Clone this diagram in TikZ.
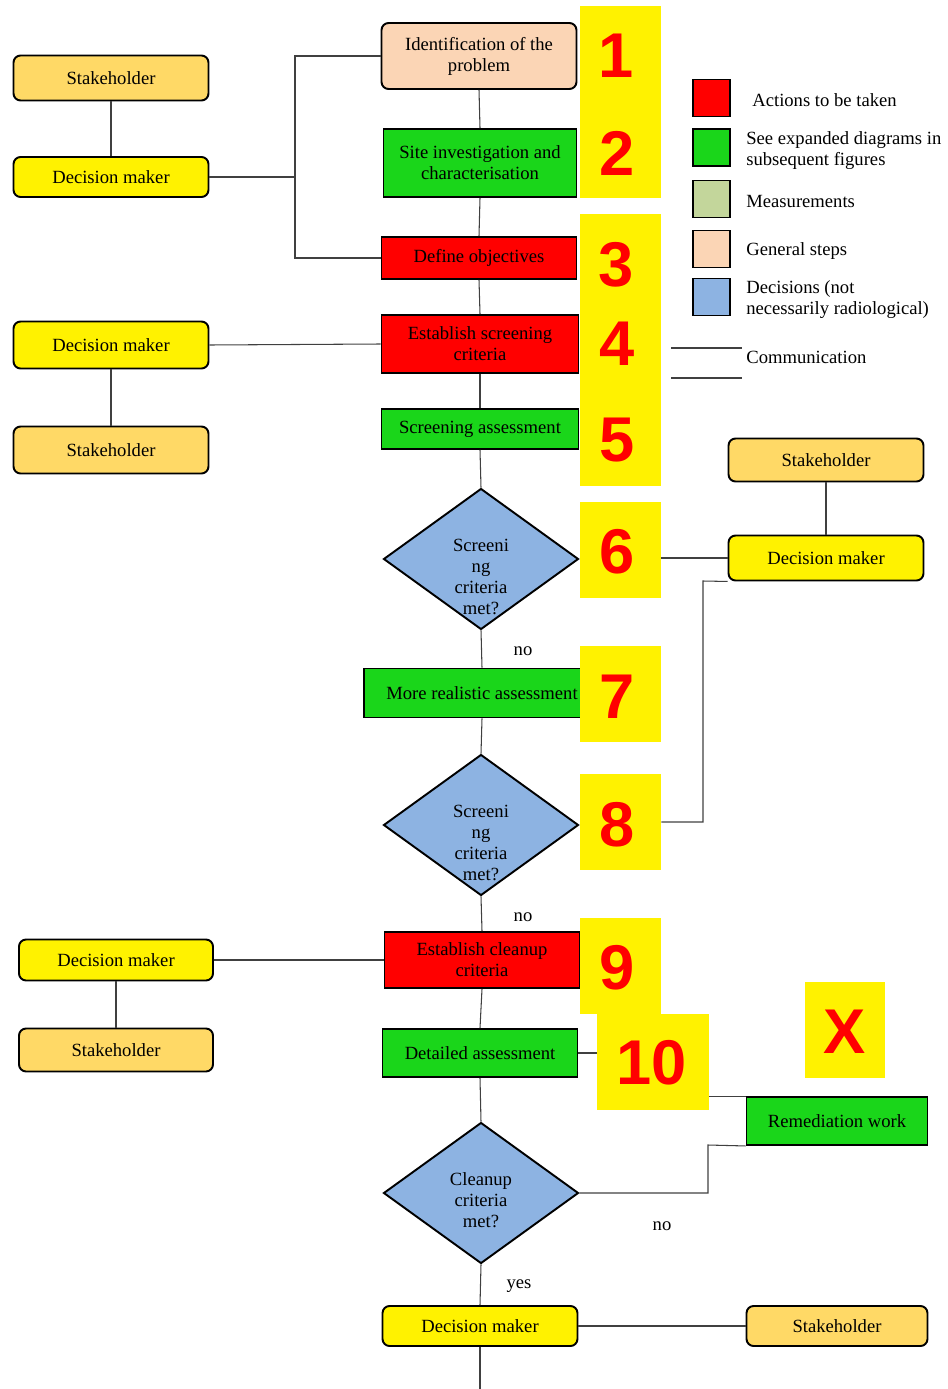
\documentclass[tikz,border=0pt]{standalone}
\usepackage{fontspec}
\setmainfont{Liberation Serif}
\newfontfamily\numfont{Liberation Sans}
\usetikzlibrary{shapes.geometric}

\definecolor{stakecol}{HTML}{FFD966}
\definecolor{peach}{HTML}{FBD5B5}
\definecolor{actgreen}{HTML}{1AD61A}
\definecolor{decblue}{HTML}{8DB3E2}
\definecolor{meascol}{HTML}{C3D69B}

\begin{document}
\begin{tikzpicture}[
  x=0.02cm, y=-0.02cm,
  box/.style={draw=black,line width=1.1pt,align=center,inner sep=1pt,
              font=\fontsize{10.6}{12}\selectfont},
  sbox/.style={box,rounded corners=4pt},
  stake/.style={sbox,fill=stakecol,minimum width=3.9cm},
  dmaker/.style={sbox,fill=yellow,minimum width=3.9cm},
  act/.style={box,fill=red},
  exp/.style={box,fill=actgreen},
  dec/.style={diamond,draw=black,line width=1.1pt,fill=decblue,inner sep=0pt,
              minimum width=3.9cm,minimum height=2.82cm},
  dtext/.style={align=center,font=\fontsize{10.6}{12}\selectfont},
  numbox/.style={fill=yellow,minimum width=1.62cm,minimum height=1.92cm,inner sep=0pt},
  num/.style={text=red,font=\numfont\bfseries\fontsize{36}{36}\selectfont,inner sep=0pt},
  edge/.style={line width=0.6pt,draw=black!75},
  ans/.style={font=\fontsize{10.6}{12}\selectfont,inner sep=0pt},
  lbl/.style={font=\fontsize{10.6}{12}\selectfont,align=left,anchor=west,inner sep=0pt},
  swatch/.style={draw=black,line width=1.1pt,minimum size=0.74cm,inner sep=0pt},
]
  \useasboundingbox (0,0) rectangle (947,1389);

  % Main column
  \node[sbox,fill=peach,minimum width=3.9cm,minimum height=1.32cm] (ident) at (479,56) {Identification of the\\problem};
  \node[exp,minimum width=3.86cm,minimum height=1.36cm] (site) at (480,163) {Site investigation and\\characterisation};
  \node[act,minimum width=3.9cm,minimum height=0.84cm] (defobj) at (479,258) {Define objectives};
  \node[act,minimum width=3.94cm,minimum height=1.16cm] (scrit) at (480,344) {Establish screening\\criteria};
  \node[exp,minimum width=3.94cm,minimum height=0.8cm] (sassess) at (480,429) {Screening assessment};
  \node[dec,label={[dtext,yshift=-0.36cm]center:Screeni\\ng\\criteria\\met?}] (dq1) at (481,559) {};
  \node[exp,minimum width=4.72cm,minimum height=0.98cm] (more) at (482,693) {More realistic assessment};
  \node[dec,label={[dtext,yshift=-0.36cm]center:Screeni\\ng\\criteria\\met?}] (dq2) at (481,825) {};
  \node[act,minimum width=3.9cm,minimum height=1.12cm] (clean) at (482,960) {Establish cleanup\\criteria};
  \node[exp,minimum width=3.9cm,minimum height=0.96cm] (detail) at (480,1053) {Detailed assessment};
  \node[dec,label={[dtext,yshift=-0.14cm]center:Cleanup\\criteria\\met?}] (dq3) at (481,1193) {};
  \node[dmaker,minimum height=0.8cm] (dmB) at (480,1326) {Decision maker};

  % Left column
  \node[stake,minimum height=0.9cm] (sk1) at (111,78) {Stakeholder};
  \node[dmaker,minimum height=0.8cm] (dm1) at (111,177) {Decision maker};
  \node[dmaker,minimum height=0.94cm] (dm2) at (111,345) {Decision maker};
  \node[stake,minimum height=0.94cm] (sk2) at (111,450) {Stakeholder};
  \node[dmaker,minimum width=3.88cm,minimum height=0.82cm] (dm3) at (116,960) {Decision maker};
  \node[stake,minimum width=3.88cm,minimum height=0.86cm] (sk3) at (116,1050) {Stakeholder};

  % Right column
  \node[stake,minimum height=0.86cm] (skR) at (826,460) {Stakeholder};
  \node[dmaker,minimum height=0.9cm] (dmR) at (826,558) {Decision maker};
  \node[exp,minimum width=3.62cm,minimum height=0.96cm] (remed) at (837,1121) {Remediation work};
  \node[stake,minimum width=3.62cm,minimum height=0.8cm] (skB) at (837,1326) {Stakeholder};

  % Step numbers
  \node[numbox,minimum height=3.84cm] (n12box) at (620.5,102) {};
  \node[num] (n1) at (616,56) {1};
  \node[num] (n2) at (617,153) {2};
  \node[numbox,minimum height=5.44cm] (n35box) at (620.5,350) {};
  \node[num] (n3) at (616,265) {3};
  \node[num] (n4) at (617,344) {4};
  \node[num] (n5) at (617,440) {5};
  \node[numbox] (n6box) at (620.5,550) {};
  \node[num] (n6) at (617,552) {6};
  \node[numbox] (n7box) at (620.5,694) {};
  \node[num] (n7) at (617,697) {7};
  \node[numbox] (n8box) at (620.5,822) {};
  \node[num] (n8) at (617,825) {8};
  \node[numbox] (n9box) at (620.5,966) {};
  \node[num] (n9) at (617,968) {9};
  \node[numbox,minimum width=2.24cm] (n10box) at (653,1062) {};
  \node[num] (n10) at (652,1063) {10};
  \node[numbox,minimum width=1.6cm] (nxbox) at (845,1030) {};
  \node[num] (nx) at (845,1032) {X};

  % Answers
  \node[ans] (no1) at (523,651) {no};
  \node[ans] (no2) at (523,917) {no};
  \node[ans] (no3) at (662,1226) {no};
  \node[ans] (yes1) at (519,1286) {yes};

  % Legend
  \node[swatch,fill=red] (lgact) at (711.5,98) {};
  \node[lbl] (lgacttxt) at (752,100) {Actions to be taken};
  \node[swatch,fill=actgreen] (lgexp) at (711.5,147.5) {};
  \node[lbl] (lgexptxt) at (746,151) {See expanded diagrams in\\subsequent figures};
  \node[swatch,fill=meascol] (lgmeas) at (711.5,199) {};
  \node[lbl] (lgmeastxt) at (746,201) {Measurements};
  \node[swatch,fill=peach] (lggen) at (711.5,249) {};
  \node[lbl] (lggentxt) at (746,251) {General steps};
  \node[swatch,fill=decblue] (lgdec) at (711.5,297) {};
  \node[lbl] (lgdectxt) at (746,300) {Decisions (not\\necessarily radiological)};
  \node[lbl] (lgcomtxt) at (746,357) {Communication};
  \draw[edge] (671,348) -- (742,348);
  \draw[edge] (671,378) -- (742,378);

  % Main flow
  \draw[edge] (ident.south) -- (site.north);
  \draw[edge] (site.south) -- (defobj.north);
  \draw[edge] (defobj.south) -- (scrit.north);
  \draw[edge] (scrit.south) -- (sassess.north);
  \draw[edge] (sassess.south) -- (dq1.north);
  \draw[edge] (dq1.south) -- (more.north);
  \draw[edge] (more.south) -- (dq2.north);
  \draw[edge] (dq2.south) -- (clean.north);
  \draw[edge] (clean.south) -- (detail.north);
  \draw[edge] (detail.south) -- (dq3.north);
  \draw[edge] (dq3.south) -- (dmB.north);
  \coordinate (tail) at (480,1389);
  \draw[edge] (dmB.south) -- (tail);

  % Communication links
  \coordinate (jn1) at (295,177);
  \draw[edge] (sk1) -- (dm1);
  \draw[edge] (dm1.east) -- (jn1);
  \draw[edge] (ident.west) -| (jn1) |- (defobj.west);
  \draw[edge] (dm2) -- (sk2);
  \draw[edge] (dm2.east) -- (scrit.west);
  \draw[edge] (dm3) -- (sk3);
  \draw[edge] (dm3.east) -- (clean.west);
  \draw[edge] (skR) -- (dmR);
  \draw[edge] (n6box.east |- dmR.west) -- (dmR.west);
  \coordinate (jn2) at (703,581);
  \draw[edge] (n8box.east) -| (jn2) -- (dmR.south west);
  \draw[edge] (detail.east) -- (detail.east -| n10box.west);
  \draw[edge] (n10box.east |- remed.north west) -- (remed.north west);
  \coordinate (jn3) at (708,1145);
  \draw[edge] (dq3.east) -| (jn3) -- (remed.south west);
  \draw[edge] (dmB.east) -- (skB.west);
\end{tikzpicture}
\end{document}
